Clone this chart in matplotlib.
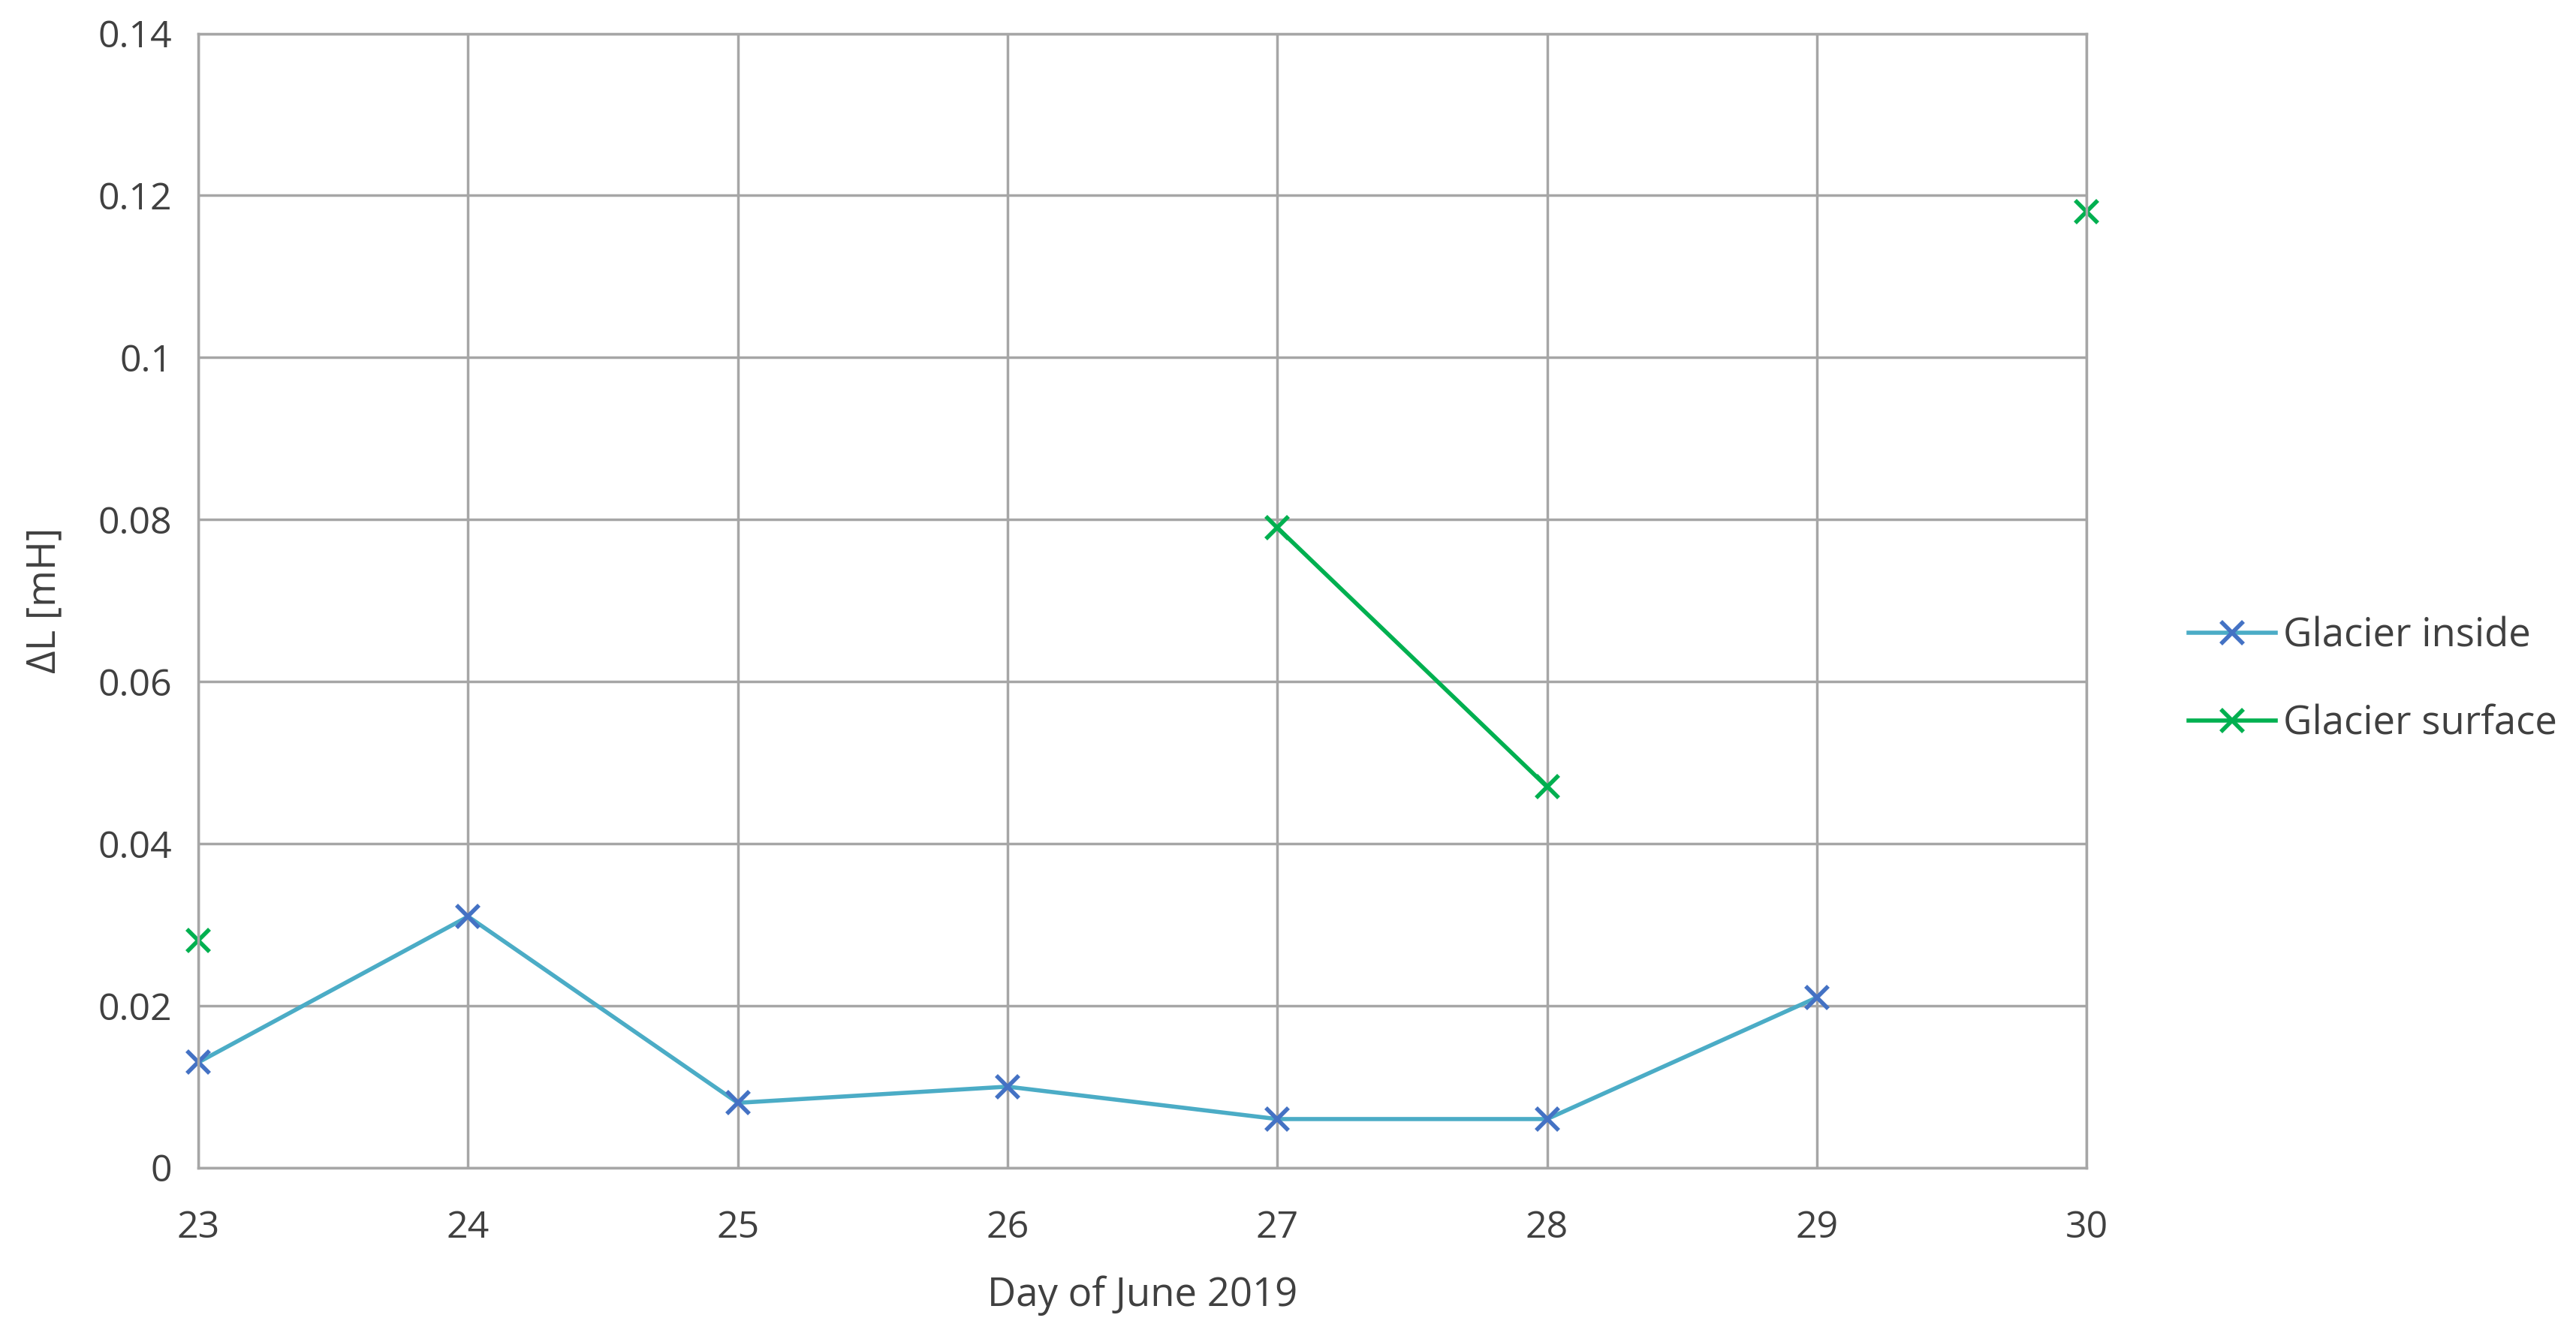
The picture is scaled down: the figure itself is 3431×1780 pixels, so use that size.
import numpy as np
import matplotlib
matplotlib.use('Agg')
from matplotlib import pyplot as plt

# data
days = [23, 24, 25, 26, 27, 28, 29, 30]
inside = [0.013, 0.031, 0.008, 0.010, 0.006, 0.006, 0.021, np.nan]
surface = [0.028, np.nan, np.nan, np.nan, 0.079, 0.047, np.nan, 0.118]

plt.rcParams['font.family'] = ['Open Sans', 'DejaVu Sans']

f = plt.figure(figsize=(34.31, 17.8), dpi=100)
ax = f.add_axes([0.077, 0.126, 0.733, 0.849])

ax.plot(days, inside, color='#4BACC6', lw=4, marker='x', ms=22, mew=4,
        mec='#4472C4', label='Glacier inside', clip_on=False)
ax.plot(days, surface, color='#00B050', lw=4, marker='x', ms=22, mew=4,
        label='Glacier surface', clip_on=False)

ax.set_xlim(23, 30)
ax.set_ylim(0, 0.14)
ax.set_xticks(days)
ax.set_yticks(np.arange(0, 0.141, 0.02))
ax.set_yticklabels(['0', '0.02', '0.04', '0.06', '0.08', '0.1', '0.12', '0.14'])
ax.grid(True, color='#A6A6A6', lw=2.5)
ax.set_axisbelow(True)
for s in ax.spines.values():
    s.set_color('#A6A6A6')
    s.set_linewidth(2.5)
ax.tick_params(length=0, labelsize=36, colors='#404040')
ax.tick_params(axis='x', pad=40)
ax.tick_params(axis='y', pad=25)
ax.set_xlabel('Day of June 2019', fontsize=38, color='#404040', labelpad=28)
ax.set_ylabel('ΔL [mH]', fontsize=38, color='#404040', labelpad=32)

ax.legend(loc='center left', bbox_to_anchor=(1.035, 0.43), frameon=False,
          fontsize=38, labelcolor='#404040', handlelength=2.2,
          labelspacing=1.2, handletextpad=0.2)

f.savefig('out.png', dpi=100)
